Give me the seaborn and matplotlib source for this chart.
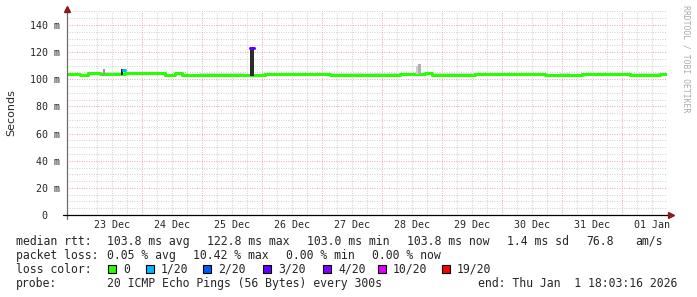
import matplotlib
matplotlib.use("Agg")
import matplotlib.pyplot as plt
import numpy as np
import pandas as pd
import seaborn as sns
from matplotlib.patches import Rectangle

# ---------------- data ----------------
start = pd.Timestamp("2025-12-22 18:03:16")
end = pd.Timestamp("2026-01-01 18:03:16")

# median rtt (ms) as step function: hours since start -> value
seg_hours = [0, 5.2, 8.4, 13.2, 14.8, 21.2, 23.2, 37.2, 39.2, 43.2, 46.0, 53.2,
             71.2, 78.4, 79.2, 105.2, 133.2, 143.2, 146.0, 163.2, 191.2, 197.2,
             201.2, 206.0, 225.2, 237.2, 240.0]
median_ms = [104.0, 103.0, 104.6, 104.2, 103.9, 104.0, 104.4, 104.7, 103.0, 104.7,
             102.9, 103.1, 102.8, 103.5, 104.0, 103.2, 103.6, 104.6, 103.2, 103.9,
             102.9, 103.5, 102.9, 103.9, 103.5, 103.9, 103.9]
smoke_top_ms = [104.8, 104.2, 105.4, 105.6, 105.0, 105.0, 105.4, 105.5, 104.2, 105.4,
                104.0, 104.4, 104.0, 104.4, 104.9, 104.5, 104.8, 105.3, 104.6, 104.9,
                104.2, 104.5, 104.2, 104.9, 104.7, 104.8, 104.8]

# short periods with packet loss (median colored by loss)
loss_start_h = [22.4, 73.2]
loss_end_h = [23.2, 74.8]
loss_median_ms = [107.0, 122.8]
loss_level = ["1/20", "3/20"]

# dense smoke spikes
spike_start_h = [14.4, 21.8, 73.2, 139.6, 140.4]
spike_end_h = [15.2, 22.4, 74.8, 140.4, 141.6]
spike_top_ms = [107.4, 107.6, 123.0, 109.8, 111.0]
spike_bottom_ms = [103.5, 103.5, 102.5, 103.8, 103.8]
spike_shades = ["#9a9a9a", "#202020", "#2b2b2b", "#d0d0d0", "#b0b0b0"]

y_ticks = [0, 20, 40, 60, 80, 100, 120, 140]
y_tick_labels = ["0  ", "20 m", "40 m", "60 m", "80 m", "100 m", "120 m", "140 m"]
day_labels = ["23 Dec", "24 Dec", "25 Dec", "26 Dec", "27 Dec", "28 Dec",
              "29 Dec", "30 Dec", "31 Dec", "01 Jan"]

loss_labels = ["0", "1/20", "2/20", "3/20", "4/20", "10/20", "19/20"]
loss_colors = ["#26ff00", "#00b8ff", "#0059ff", "#5e00ff", "#7e00ff", "#dd00ff", "#ff0000"]

stats_rtt = ["median rtt:", "103.8 ms avg", "122.8 ms max", "103.0 ms min",
             "103.8 ms now", "1.4 ms sd", "76.8", "am/s"]
stats_loss = ["packet loss:", "0.05 % avg", "10.42 % max", "0.00 % min", "0.00 % now"]
probe_text = ["probe:", "20 ICMP Echo Pings (56 Bytes) every 300s",
              "end: Thu Jan  1 18:03:16 2026"]

# ---------------- figure ----------------
sns.set_style("white")
plt.rcParams["font.family"] = ["DejaVu Sans"]
W, H = 697, 297
fig = plt.figure(figsize=(W / 100, H / 100), dpi=100)
x0, x1, yb, yt = 67, 667, 215, 215 - 150 * (190 / 140)
ax = fig.add_axes([x0 / W, (H - yb) / H, (x1 - x0) / W, (yb - yt) / H])
ax.set_xlim(start, end)
ax.set_ylim(0, 150)

mono = "DejaVu Sans Mono"
dot = (0, (0.72, 1.44))
red_grid = "#e49a9a"
gray_grid = "#c8c8c8"

# grid
for v in range(5, 151, 5):
    col = red_grid if v % 20 == 0 else gray_grid
    ax.axhline(v, color=col, lw=0.8, ls=dot, zorder=0)
for t in pd.date_range("2025-12-23 06:00", "2026-01-01 18:00", freq="6h"):
    col = red_grid if t.hour == 0 else gray_grid
    ax.axvline(t, color=col, lw=0.8, ls=dot, zorder=0)

times = start + pd.to_timedelta(seg_hours, unit="h")
ax.fill_between(times, np.array(median_ms) - 0.5, smoke_top_ms, step="post",
                color="#d9d9d9", lw=0, zorder=1)

df = pd.DataFrame({"time": times, "median": median_ms})
sns.lineplot(data=df, x="time", y="median", drawstyle="steps-post", color=loss_colors[0],
             lw=2.2, ax=ax, estimator=None, sort=False, zorder=3)

for s, e, top, bot, shade in zip(spike_start_h, spike_end_h, spike_top_ms, spike_bottom_ms, spike_shades):
    tt = start + pd.to_timedelta([s, e], unit="h")
    ax.fill_between(tt, [bot, bot], [top, top], color=shade, lw=0, zorder=4)

for s, e, v, lvl in zip(loss_start_h, loss_end_h, loss_median_ms, loss_level):
    d = pd.DataFrame({"time": start + pd.to_timedelta([s, e], unit="h"), "median": [v, v]})
    sns.lineplot(data=d, x="time", y="median", color=loss_colors[loss_labels.index(lvl)],
                 lw=2.2, ax=ax, estimator=None, sort=False, zorder=5)

ax.set_xlabel("")
ax.set_ylabel("")
for sp in ax.spines.values():
    sp.set_visible(False)

# axis lines and arrows
px = 1 / (x1 - x0)
py = 1 / (yb - yt)
ax.plot([0, 0], [-4 * py, 1 + 2 * py], color="#6e6e6e", lw=0.9, transform=ax.transAxes, clip_on=False, zorder=6)
ax.plot([-4 * px, 1 + 3 * px], [0, 0], color="black", lw=0.9, transform=ax.transAxes, clip_on=False, zorder=6)
ax.plot([0], [1 + 2 * py], marker="^", color="#8b1a1a", ms=4, transform=ax.transAxes, clip_on=False, zorder=7)
ax.plot([1 + 4 * px], [0], marker=">", color="#8b1a1a", ms=4, transform=ax.transAxes, clip_on=False, zorder=7)

ax.set_yticks(y_ticks)
ax.set_yticklabels(y_tick_labels, family=mono, fontsize=7.2)
ax.tick_params(axis="y", length=0, pad=5)
noon = pd.date_range("2025-12-23 12:00", periods=len(day_labels), freq="D")
ax.set_xticks(noon)
ax.set_xticklabels(day_labels, family=mono, fontsize=7.2)
ax.tick_params(axis="x", length=0, pad=3.5)

fig.text(11 / W, 1 - 113 / H, "Seconds", rotation=90, ha="center", va="center", fontsize=8)
fig.text(686 / W, 1 - 59 / H, "RRDTOOL / TOBI OETIKER", rotation=270, ha="center", va="center",
         family=mono, fontsize=5.9, color="#aaaaaa")

fs = 8.3
def row(y, items):
    for x, s in items:
        fig.text(x / W, 1 - y / H, s, family=mono, fontsize=fs, ha="left", va="baseline")

row(245, zip([16, 107, 207, 307, 407, 507, 586, 635], stats_rtt))
row(259, zip([16, 107, 193, 286, 372], stats_loss))
row(287, zip([16, 107, 478], probe_text))
row(273, [(16, "loss color:")])
sw_x = [108, 146, 203, 263, 323, 378, 442]
for x, lab, c in zip(sw_x, loss_labels, loss_colors):
    fig.patches.append(Rectangle((x / W, 1 - 273 / H), 8 / W, 8 / H, facecolor=c,
                                 edgecolor="black", lw=0.8, transform=fig.transFigure, figure=fig))
    fig.text((x + 15) / W, 1 - 273 / H, lab, family=mono, fontsize=fs, ha="left", va="baseline")

fig.savefig("out.png", dpi=100)
